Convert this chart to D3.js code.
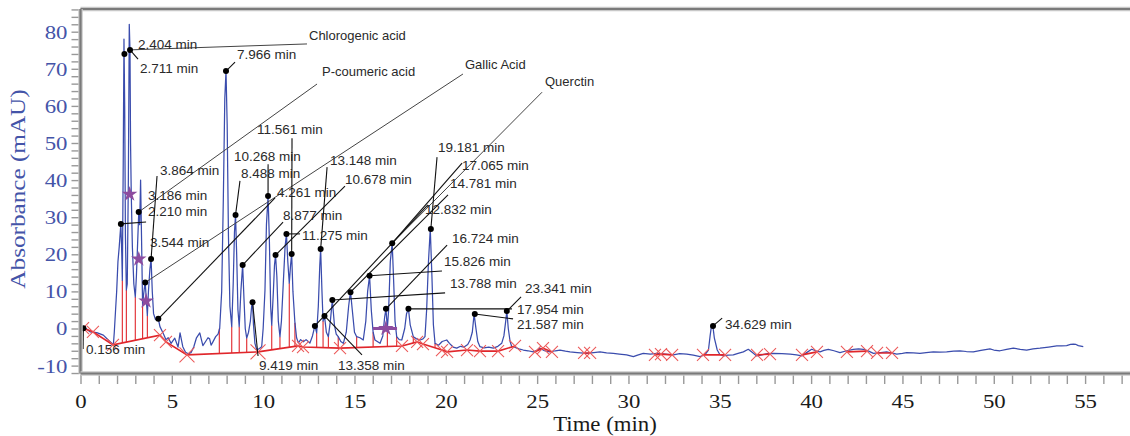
<!DOCTYPE html>
<html>
<head>
<meta charset="utf-8">
<script src="https://cdn.jsdelivr.net/npm/d3@7"></script>
<style>
  body { margin: 0; background: #fff; }
  svg { display: block; }
</style>
</head>
<body>
<div id="vis"></div>
<script>
// chromatogram, [time (min), absorbance (mAU)]
const trace = [
  [0.0, 0.2], [0.25, 0.2], [0.52, -0.9], [0.89, -1.1], [1.25, -1.8], [1.52, -3.1], [1.8, -4.4],
  [1.85, -1], [1.92, 5], [1.98, 10], [2.05, 18], [2.12, 22], [2.21, 28.2], [2.26, 20], [2.29, 13],
  [2.34, 45], [2.38, 78], [2.42, 60], [2.46, 25], [2.51, 10.4], [2.56, 12], [2.62, 40], [2.67, 82],
  [2.71, 75], [2.74, 50], [2.78, 36], [2.84, 22], [2.92, 12], [3.0, 8.5], [3.06, 14], [3.12, 22],
  [3.19, 31.4], [3.24, 28], [3.29, 40], [3.34, 25], [3.40, 6], [3.45, 9], [3.54, 12.6], [3.60, 8],
  [3.66, 3.5], [3.72, 10], [3.8, 16], [3.864, 18.7], [3.93, 10], [4.0, 4], [4.1, 2.5], [4.17, 2.3],
  [4.261, 2.6], [4.35, 0.5], [4.52, -1.2], [4.68, -3], [4.8, -2.5], [4.96, -4], [5.16, -2.6],
  [5.34, -5], [5.45, -1.2], [5.6, -4.9], [5.75, -6.4], [5.9, -6.8], [6.05, -6.5], [6.2, -5],
  [6.35, -2.5], [6.53, -1.2], [6.7, -4.6], [6.85, -3.5], [6.98, -2.5], [7.07, -2.8], [7.15, -4.5],
  [7.25, -3.6], [7.4, -2.2], [7.53, -1.5], [7.62, 0], [7.73, 10], [7.82, 35], [7.9, 62],
  [7.966, 69.4], [8.03, 55], [8.1, 25], [8.18, 6], [8.28, 0.5], [8.36, 12], [8.43, 26],
  [8.488, 30.6], [8.55, 20], [8.62, 5], [8.69, 0.5], [8.78, 10], [8.877, 17.1], [8.95, 8],
  [9.02, 0], [9.1, -2.6], [9.2, -1], [9.3, 2], [9.37, 6], [9.419, 7.1], [9.47, 1], [9.55, -4],
  [9.65, -5.8], [9.8, -5.4], [9.92, -4.9], [10.0, 0], [10.1, 10.4], [10.18, 28], [10.268, 35.7],
  [10.34, 24], [10.41, 6], [10.47, 0.9], [10.56, 10], [10.62, 17], [10.678, 19.8], [10.75, 14],
  [10.83, 2], [10.92, -2.2], [11.0, 2], [11.1, 12], [11.2, 22], [11.275, 25.5], [11.35, 18],
  [11.43, 12.2], [11.5, 17], [11.561, 20.1], [11.63, 10], [11.74, 1.5], [11.83, -2.5],
  [11.93, -3.9], [12.05, -3], [12.2, -3.6], [12.35, -3], [12.56, -3.9], [12.7, -2], [12.832, 0.7],
  [12.93, -1.2], [13.02, 6], [13.1, 17], [13.148, 21.4], [13.22, 10], [13.28, 2], [13.358, 3.4],
  [13.46, -1], [13.57, -2.2], [13.68, 2], [13.788, 7.7], [13.9, 1], [14.0, -1.5], [14.11, -2.2],
  [14.25, -3.5], [14.39, -4], [14.55, -1], [14.68, 6], [14.781, 10], [14.88, 5], [15.0, -1],
  [15.12, -2.2], [15.3, -2.5], [15.48, -3.1], [15.62, 2], [15.72, 10], [15.826, 14.2], [15.92, 5],
  [16.02, -1], [16.12, -3.1], [16.4, -4], [16.55, -2], [16.65, 3], [16.724, 5.3], [16.8, 0],
  [16.87, 5], [16.96, 18], [17.065, 23], [17.15, 12], [17.22, 2], [17.31, -2.2], [17.45, -3],
  [17.59, -3.1], [17.75, 0], [17.85, 4], [17.954, 5.3], [18.05, 1], [18.22, -2.2], [18.4, -2.8],
  [18.59, -3.1], [18.75, -2.8], [18.86, -2.2], [18.95, 5], [19.05, 18], [19.15, 26.8], [19.24, 14],
  [19.32, 1], [19.41, -4], [19.6, -4.5], [19.8, -3.5], [20.05, -3.1], [20.2, -4], [20.4, -5],
  [20.6, -5.3], [20.8, -4.8], [21.0, -5], [21.2, -4.3], [21.33, -3.1], [21.45, -1], [21.55, 3.9],
  [21.65, 0], [21.75, -3.5], [21.87, -4.9], [22.1, -5.2], [22.35, -5], [22.6, -5.3], [22.85, -4.8],
  [23.06, -4], [23.18, -2], [23.28, 2], [23.341, 4.7], [23.42, 0], [23.52, -3.5], [23.61, -4.9],
  [23.7, -4.9], [24.0, -5.5], [24.24, -5.8], [24.5, -6], [24.79, -6.3], [25.0, -5.9], [25.16, -5.3],
  [25.4, -6], [25.7, -6.3], [26.0, -6], [26.25, -5.8], [26.55, -6.1], [26.8, -6.3], [27.2, -6.5],
  [27.71, -6.7], [28.1, -6.5], [28.44, -6.3], [28.8, -6.6], [29.17, -6.7], [29.5, -6.9],
  [29.9, -7.1], [30.27, -7.6], [30.5, -7.2], [30.81, -6.7], [31.2, -6.9], [31.55, -6.7], [32.0, -6.9],
  [32.46, -7.1], [32.8, -6.8], [33.19, -6.9], [33.55, -7.2], [33.92, -7.6], [34.2, -7], [34.38, -5.8],
  [34.47, -2], [34.55, 0.9], [34.62, 0.7], [34.7, -2.5], [34.86, -5.8], [35.0, -7], [35.19, -7.4],
  [35.45, -7.2], [35.74, -7.1], [36.0, -6.7], [36.29, -6.3], [36.56, -5.6], [36.84, -6.7],
  [37.02, -7.4], [37.3, -7.1], [37.6, -6.8], [37.93, -6.7], [38.4, -6.8], [38.85, -6.9], [39.2, -7.1],
  [39.49, -7.4], [39.75, -6.5], [40.03, -5.6], [40.25, -6], [40.49, -6.3], [40.7, -5.9], [40.94, -5.6],
  [41.25, -6], [41.58, -6.5], [41.95, -6], [42.31, -5.6], [42.6, -5.5], [42.86, -5.6], [43.15, -6.1],
  [43.41, -6.7], [43.8, -6.5], [44.14, -6.3], [44.4, -6.6], [44.69, -6.9], [45.0, -6.7], [45.23, -6.5],
  [45.6, -6.6], [45.96, -6.7], [46.3, -6.5], [46.69, -6.3], [47.05, -6.4], [47.42, -6.3], [47.8, -6.1],
  [48.15, -6], [48.5, -6.2], [48.88, -6.3], [49.3, -5.9], [49.79, -5.5], [50.0, -5.8], [50.34, -6],
  [50.7, -5.6], [51.07, -5.3], [51.45, -5.6], [51.8, -5.8], [52.15, -5.5], [52.53, -5.3], [53.0, -5.0],
  [53.45, -4.7], [53.7, -4.7], [53.99, -4.6], [54.2, -4.3], [54.36, -4.2], [54.5, -4.3], [54.63, -4.6],
  [54.9, -4.9]
];

// labelled peaks
const peakTimes = [0.156, 2.210, 2.404, 2.711, 3.186, 3.544, 3.864, 4.261, 7.966, 8.488, 8.877, 9.419,
  10.268, 10.678, 11.275, 11.561, 12.832, 13.148, 13.358, 13.788, 14.781, 15.826, 16.724, 17.065,
  17.954, 19.181, 21.587, 23.341, 34.629];
const peakAbs = [0.1, 28.2, 74.0, 75.1, 31.4, 12.4, 18.7, 2.6, 69.4, 30.6, 17.1, 7.1, 35.7, 19.8,
  25.5, 20.1, 0.7, 21.4, 3.4, 7.7, 9.8, 14.2, 5.3, 23.0, 5.3, 26.8, 3.9, 4.7, 0.7];

const compounds = ['Chlorogenic acid', 'P-coumeric acid', 'Gallic Acid', 'Querctin'];
const compoundPeak = [2.711, 3.186, 3.544, 17.065];

// integration events (red)
const markers = [[0.14, 0.1], [0.68, -0.9], [1.78, -4.4], [4.35, -1.8], [4.68, -3.6], [5.83, -7.1],
  [9.72, -6.3], [11.91, -4.7], [12.18, -5.0], [14.21, -5.3], [17.6, -4.7], [18.43, -3.6], [18.75, -4.2],
  [19.79, -5.8], [20.07, -6.3], [21.16, -5.8], [21.87, -6.1], [22.86, -6.1], [23.79, -4.7],
  [24.88, -6.3], [25.32, -5.3], [25.81, -6.3], [27.57, -6.6], [27.9, -6.6], [31.45, -7.1], [31.78, -6.9],
  [32.39, -7.1], [34.08, -7.1], [35.29, -7.1], [37.04, -7.1], [37.75, -6.9], [39.5, -7.1], [40.32, -6.3],
  [41.96, -6.3], [43.06, -6.1], [43.61, -6.6], [44.43, -6.6]];
const bigMarkers = [5.83, 9.72];
// which markers are joined by a baseline
const baseGroups = [[0, 1, 2, 3, 4, 5, 6, 7, 8, 9, 10, 11, 12, 13, 14, 15, 16, 17, 18], [19, 20, 21],
  [22, 23], [24, 25, 26], [27, 28], [29, 30], [31, 32], [33, 34], [35, 36]];
const dropTimes = [2.29, 2.51, 3.0, 3.40, 3.66, 7.6, 8.28, 8.69, 9.1, 10.47, 10.92, 11.43, 11.74,
  12.93, 13.28, 13.57, 14.11, 15.12, 16.02, 16.8, 17.31, 18.22, 19.41];
const dropTops = [13, 10.4, 8.5, 6, 3.5, 0, 0.5, 0.5, -2.6, 0.9, -2.2, 12.2, 1.5, -1.2, 2, -2.2,
  -2.2, -2.2, -1, 0, -2.2, -2.2, -4];

// purple markers
const starTimes = [2.69, 3.19, 3.59, 16.72];
const starAbs = [36.2, 18.7, 7.4, 0];
const barRange = [16.01, 17.33];

const xTicks = d3.range(0, 58, 1);
const yTicks = d3.range(-12, 87, 2);

// label placement, axis units: text anchor (tx, ty), leader end (lx, ly)
const labelLayout = {
  '0.156': [0.30, -5.8, 0.14, -5.5],
  '2.210': [3.70, 31.4, 3.59, 28.7],
  '2.404': [3.15, 76.4, null, null],
  '2.711': [3.26, 69.9, 3.15, 72.6],
  '3.186': [3.70, 35.7, null, null],
  '3.544': [3.81, 22.8, null, null],
  '3.864': [4.35, 42.4, 4.19, 41.1],
  '4.261': [10.76, 36.3, 10.65, 35.2],
  '7.966': [8.57, 73.7, 8.46, 71.8],
  '8.488': [8.79, 41.6, 8.73, 39.8],
  '8.877': [11.09, 30.1, 11.09, 28.7],
  '9.419': [9.77, -10.1, 9.72, -7.4],
  '10.268': [8.40, 46.2, 10.27, 44.3],
  '10.678': [14.48, 40.0, 14.48, 38.4],
  '11.275': [12.13, 24.9, 12.02, 25.5],
  '11.561': [9.66, 53.5, 11.58, 51.3],
  '12.832': [18.86, 31.7, 19.02, 33.3],
  '13.148': [13.66, 45.1, 13.50, 43.5],
  '13.358': [14.10, -10.1, 15.41, -7.1],
  '13.788': [20.23, 12.0, 19.96, 9.6],
  '14.781': [20.23, 38.7, 20.12, 36.0],
  '15.826': [19.90, 17.9, 19.79, 15.5],
  '16.724': [20.34, 23.9, 20.07, 22.5],
  '17.065': [20.89, 43.8, 20.89, 44.6],
  '17.954': [23.90, 5.0, 23.62, 5.3],
  '19.181': [19.57, 48.6, 19.52, 46.2],
  '21.587': [23.90, 0.7, 23.68, 2.6],
  '23.341': [24.34, 10.4, 24.12, 8.5],
  '34.629': [35.29, 0.7, 35.13, 2.8]
};
const compoundLayout = [[12.51, 78.8, 12.40, 76.7], [13.22, 68.9, 12.95, 65.9],
  [21.05, 71.0, 20.94, 68.6], [25.43, 66.2, 25.27, 63.7]];

class Chromatogram {
    constructor() {
        this.config = {
            width: 1130,
            height: 436,
            top: 9,
            bottom: 373.5,
            left: 80.5,
            blue: '#3a4cad',
            red: '#e0262b',
            purple: '#8d4c9f',
            axisBlue: '#4454a8',
            frame: '#8a8a8a'
        };
        this.initVis();
    }
    initVis() {
        let vis = this;
        vis.svg = d3.select('#vis')
            .append('svg')
            .attr('width', vis.config.width)
            .attr('height', vis.config.height);

        vis.x = d3.scaleLinear().domain([0, 55]).range([80.5, 1085.1]);
        vis.y = d3.scaleLinear().domain([-10, 80]).range([365.6, 31.7]);

        vis.svg.append('clipPath').attr('id', 'plot-clip')
            .append('rect')
            .attr('x', vis.config.left + 2).attr('y', vis.config.top + 2)
            .attr('width', vis.config.width - vis.config.left)
            .attr('height', vis.config.bottom - vis.config.top - 3);
    }
    renderAxes() {
        let vis = this;
        const c = vis.config;

        const xAxis = d3.axisBottom(vis.x)
            .tickValues(xTicks)
            .tickSize(9)
            .tickFormat(d => d % 5 === 0 ? d : '');
        const gx = vis.svg.append('g')
            .attr('transform', `translate(0,${c.bottom + 1.5})`)
            .call(xAxis);
        gx.select('.domain').remove();
        gx.selectAll('line').attr('stroke', '#999').attr('stroke-width', 1.4);
        gx.selectAll('text')
            .attr('y', 33).attr('dy', 0)
            .attr('transform', 'scale(1.2,1)')
            .style('font-family', '"Liberation Serif", serif')
            .style('font-size', '19px')
            .attr('fill', '#1a1a1a');

        const yAxis = d3.axisLeft(vis.y)
            .tickValues(yTicks)
            .tickSize(8)
            .tickFormat(d => (d % 10 === 0 && d >= -10 && d <= 80) ? d : '');
        const gy = vis.svg.append('g')
            .attr('transform', `translate(${c.left - 1},0)`)
            .call(yAxis);
        gy.select('.domain').remove();
        gy.selectAll('line').attr('stroke', '#999').attr('stroke-width', 1.4);
        gy.selectAll('text')
            .attr('x', -12 / 1.2).attr('dy', '0.34em')
            .attr('transform', 'scale(1.2,1)')
            .style('font-family', '"Liberation Serif", serif')
            .style('font-size', '19px')
            .attr('fill', c.axisBlue);

        // frame: top, left, bottom
        const frame = vis.svg.append('g');
        [[c.left, c.top, c.width, c.top], [c.left, c.top, c.left, c.bottom], [c.left, c.bottom, c.width, c.bottom]]
            .forEach(s => {
                frame.append('line')
                    .attr('x1', s[0]).attr('y1', s[1]).attr('x2', s[2]).attr('y2', s[3])
                    .attr('stroke', '#c8c8c8').attr('stroke-width', 4.5);
                frame.append('line')
                    .attr('x1', s[0]).attr('y1', s[1]).attr('x2', s[2]).attr('y2', s[3])
                    .attr('stroke', '#7a7a7a').attr('stroke-width', 2.2);
            });

        vis.svg.append('text')
            .attr('transform', 'translate(20,189) rotate(-90) scale(1.26,1)')
            .attr('text-anchor', 'middle')
            .attr('dominant-baseline', 'middle')
            .style('font-family', '"Liberation Serif", serif')
            .style('font-size', '20px')
            .attr('fill', c.axisBlue)
            .text('Absorbance (mAU)');

        vis.svg.append('text')
            .attr('transform', 'translate(605,431) scale(1.14,1)')
            .attr('text-anchor', 'middle')
            .style('font-family', '"Liberation Serif", serif')
            .style('font-size', '20px')
            .attr('fill', '#1a1a1a')
            .text('Time (min)');
    }
    renderVis() {
        let vis = this;
        const c = vis.config;
        const x = vis.x, y = vis.y;
        const plot = vis.svg.append('g').attr('clip-path', 'url(#plot-clip)');

        const baseAt = t => {
            const pts = markers.slice(0, 19);
            for (let i = 0; i < pts.length - 1; i++) {
                if (t >= pts[i][0] && t <= pts[i + 1][0]) {
                    const f = (t - pts[i][0]) / (pts[i + 1][0] - pts[i][0]);
                    return pts[i][1] + f * (pts[i + 1][1] - pts[i][1]);
                }
            }
            return -6;
        };

        // red drop lines
        plot.selectAll('line.drop')
            .data(dropTimes)
            .join('line')
            .attr('class', 'drop')
            .attr('x1', d => x(d)).attr('x2', d => x(d))
            .attr('y1', (d, i) => y(dropTops[i]))
            .attr('y2', d => y(baseAt(d)))
            .attr('stroke', c.red).attr('stroke-width', 1.1);

        // trace
        const line = d3.line().x(d => x(d[0])).y(d => y(d[1]));
        plot.append('path')
            .datum(trace)
            .attr('d', line)
            .attr('fill', 'none')
            .attr('stroke', c.blue)
            .attr('stroke-width', 1.25)
            .attr('stroke-linejoin', 'round');

        // baselines
        plot.selectAll('path.base')
            .data(baseGroups)
            .join('path')
            .attr('class', 'base')
            .attr('d', g => line(g.map(i => markers[i])))
            .attr('fill', 'none')
            .attr('stroke', c.red).attr('stroke-width', 1.6);

        // X markers
        plot.selectAll('path.mark')
            .data(markers)
            .join('path')
            .attr('class', 'mark')
            .attr('transform', d => `translate(${x(d[0])},${y(d[1])})`)
            .attr('d', d => {
                const s = bigMarkers.includes(d[0]) ? 7.5 : 6;
                return `M${-s},${-s}L${s},${s}M${-s},${s}L${s},${-s}`;
            })
            .attr('stroke', '#ec5a5a').attr('stroke-width', 1.1).attr('fill', 'none');

        // purple bar + stars
        plot.append('line')
            .attr('x1', x(barRange[0])).attr('x2', x(barRange[1]))
            .attr('y1', y(0)).attr('y2', y(0))
            .attr('stroke', c.purple).attr('stroke-width', 3);
        plot.selectAll('path.star')
            .data(starTimes)
            .join('path')
            .attr('class', 'star')
            .attr('transform', (d, i) => `translate(${x(d)},${y(starAbs[i])})`)
            .attr('d', d3.symbol(d3.symbolStar, 75))
            .attr('fill', c.purple);

        // compound leaders and names
        const ann = vis.svg.append('g');
        compounds.forEach((name, i) => {
            const k = peakTimes.indexOf(compoundPeak[i]);
            const L = compoundLayout[i];
            ann.append('line')
                .attr('x1', x(peakTimes[k])).attr('y1', y(peakAbs[k]))
                .attr('x2', x(L[2])).attr('y2', y(L[3]))
                .attr('stroke', '#444').attr('stroke-width', 1);
            ann.append('text')
                .attr('x', x(L[0])).attr('y', y(L[1]))
                .attr('dominant-baseline', 'middle')
                .style('font-family', '"Liberation Sans", Arial, sans-serif')
                .style('font-size', '13px')
                .attr('fill', '#2a2a2a')
                .text(name);
        });

        // peak leaders, dots, labels
        peakTimes.forEach((t, i) => {
            const key = t.toFixed(3);
            const L = labelLayout[key];
            if (L[2] !== null) {
                ann.append('line')
                    .attr('x1', x(t)).attr('y1', y(peakAbs[i]))
                    .attr('x2', x(L[2])).attr('y2', y(L[3]))
                    .attr('stroke', '#111').attr('stroke-width', 1.1);
            }
            ann.append('text')
                .attr('x', x(L[0])).attr('y', y(L[1]))
                .attr('dominant-baseline', 'middle')
                .style('font-family', '"Liberation Sans", Arial, sans-serif')
                .style('font-size', '13.5px')
                .attr('fill', '#2a2a2a')
                .text(key + ' min');
        });
        ann.selectAll('circle')
            .data(peakTimes)
            .join('circle')
            .attr('cx', d => x(d))
            .attr('cy', (d, i) => y(peakAbs[i]))
            .attr('r', 3)
            .attr('fill', '#000');
    }
}

const chart = new Chromatogram();
chart.renderVis();
chart.renderAxes();
</script>
</body>
</html>
